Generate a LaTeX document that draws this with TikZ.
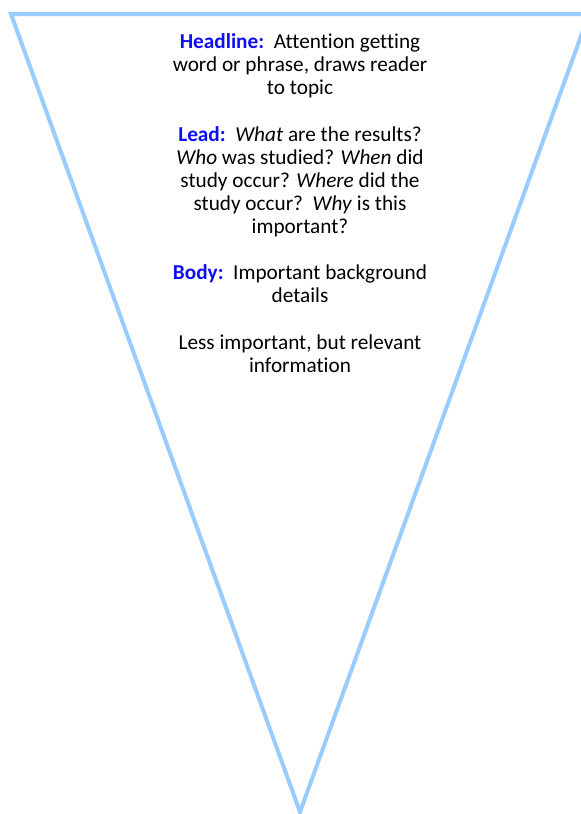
\documentclass[tikz,border=0pt]{standalone}
\usepackage{fontspec}
\setmainfont{Carlito}[Ligatures=CommonOff]
\usepackage{tikz}
\usetikzlibrary{positioning}
\definecolor{funnelblue}{RGB}{153,204,255}
\definecolor{tagblue}{RGB}{15,15,245}

\begin{document}
\begin{tikzpicture}[
    x=0.6pt, y=-0.6pt,
    node distance=13.8pt,
    para/.style={align=center, inner sep=0pt, font=\fontsize{12.75}{13.8}\selectfont},
    funnel/.style={draw=funnelblue, fill=white, line width=2.4pt, line join=miter}
]

% page frame
\clip (0,0) rectangle (581,814);
\fill[white] (0,0) rectangle (581,814);

% inverted triangle
\draw[funnel] (11,14) -- (589,14) -- (300,812) -- cycle;

% Headline
\node[para, anchor=north] (headline) at (300,32) {
    \strut{\bfseries\color{tagblue}Headline:}\ \ Attention getting\\
    word or phrase, draws reader\\
    to topic\strut
};

% Lead
\node[para, below=of headline] (lead) {
    \strut{\bfseries\color{tagblue}Lead:}\ \ \textit{What} are the results?\\
    \textit{Who} was studied? \textit{When} did\\
    study occur? \textit{Where} did the\\
    study occur?\ \ \textit{Why} is this\\
    important?\strut
};

% Body
\node[para, below=of lead] (body) {
    \strut{\bfseries\color{tagblue}Body:}\ \ Important background\\
    details\strut
};

% rest
\node[para, below=of body] (rest) {
    \strut Less important, but relevant\\
    information\strut
};

\end{tikzpicture}
\end{document}
